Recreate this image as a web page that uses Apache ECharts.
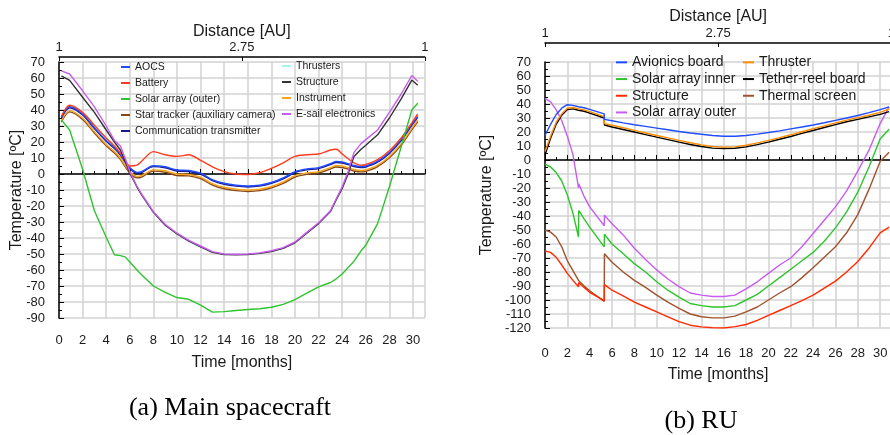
<!DOCTYPE html>
<html>
<head>
<meta charset="utf-8">
<script src="https://cdn.jsdelivr.net/npm/echarts@6/dist/echarts.min.js"></script>
<style>
  html, body { margin: 0; padding: 0; background: #fff; }
  #chart { width: 890px; height: 435px; }
</style>
</head>
<body>
<div id="chart"></div>
<script>
// ---- (a) Main spacecraft ----
const timeA = [0.2, 0.9, 2, 3, 4, 4.7, 5.2, 5.6, 6, 6.6, 7, 8, 9, 10, 11, 12, 13, 14, 15, 16, 17, 18, 19, 20, 21, 22, 23, 23.5, 24, 24.5, 25, 25.6, 26, 27, 28, 29, 29.9, 30.4];
const aocs = [35.5, 42, 37.5, 29, 21, 16.5, 12.5, 8, 4, 1, 1.5, 5.2, 4.5, 2.5, 2.2, 0.5, -3.5, -5.8, -7, -7.5, -7, -5.3, -2.5, 1.5, 3.2, 4, 6.5, 7.8, 7.5, 6.5, 5.3, 4.7, 5, 8, 13.5, 21.5, 31, 36];
const battery = [36, 43, 38.5, 30.5, 22.5, 17.5, 13, 8.5, 5, 5.5, 8, 14, 12, 11, 12, 8.5, 4.5, 1.5, 0, -0.3, 0.8, 3.5, 7, 11, 12, 12.5, 15, 15.5, 12.5, 9.5, 7, 5.5, 6, 9, 14.5, 22.5, 32, 37.5];
const solarOuterA = [33.8, 27.5, 3, -23, -39.5, -50.5, -51, -51.8, -55, -60, -63, -70, -74, -77.2, -78.3, -82, -86.3, -86, -85.3, -84.7, -84.2, -83.3, -81.5, -78.5, -74.5, -70.5, -67.8, -65.5, -62.5, -58.5, -54.5, -48, -44.5, -31, -8, 17, 40, 44.2];
const starTracker = [32.5, 38.8, 34.1, 25.6, 17.6, 13.1, 9.1, 4.6, 0.6, -2.4, -1.9, 1.8, 1.1, -0.9, -1.2, -2.9, -6.9, -9.2, -10.4, -10.9, -10.4, -8.7, -5.9, -1.9, -0.2, 0.6, 3.1, 4.4, 4.1, 3.1, 1.9, 1.3, 1.6, 4.6, 10.1, 18.1, 27.6, 32.8];
const commTx = [34.9, 41.4, 36.9, 28.4, 20.4, 15.9, 11.9, 7.4, 3.4, 0.4, 0.9, 4.6, 3.9, 1.9, 1.6, -0.1, -4.1, -6.4, -7.6, -8.1, -7.6, -5.9, -3.1, 0.9, 2.6, 3.4, 5.9, 7.2, 6.9, 5.9, 4.7, 4.1, 4.4, 7.4, 12.9, 20.9, 30.4, 35.4];
const thrusters = [32.8, 39.2, 34.5, 26, 18, 13.5, 9.5, 5, 1, -2, -1.5, 2.2, 1.5, -0.5, -0.8, -2.5, -6.5, -8.8, -10, -10.5, -10, -8.3, -5.5, -1.5, 0.2, 1, 3.5, 4.8, 4.5, 3.5, 2.3, 1.7, 2, 5, 10.5, 18.5, 28, 33.2];
const structureA = [61.3, 58.5, 48, 38.5, 27.5, 20, 15, 8, 0.5, -8, -13, -24, -32, -37.5, -42, -45.5, -49, -50.3, -50.5, -50.3, -49.6, -48.5, -46.5, -43, -37, -31, -23.5, -16, -9, 0, 11, 15.5, 18, 24.5, 35, 47, 58.7, 55.5];
const instrument = [33.2, 39.6, 35, 26.5, 18.5, 14, 10, 5.5, 1.5, -1.5, -1, 2.6, 2, 0, -0.3, -2, -6, -8.3, -9.5, -10, -9.5, -7.8, -5, -1, 0.7, 1.5, 4, 5.3, 5, 4, 2.8, 2.2, 2.5, 5.5, 11, 19, 28.5, 33.8];
const esail = [64.5, 62.5, 52, 42, 30, 21, 17.5, 10, 1.5, -7.5, -12.5, -23.5, -31.5, -37, -41.5, -45, -48.5, -50, -50.2, -50, -49.3, -48, -46, -42.5, -36.5, -30.5, -23, -15.5, -8, 1.5, 13.5, 19, 21.5, 27.5, 38.5, 50, 61.5, 58];

// ---- (b) RU ----
const timeB = [0, 0.5, 1, 1.5, 2, 2.5, 3, 3.02, 3.5, 4, 5.3, 5.32, 6, 7, 8, 9, 10, 11, 12, 13, 14, 15, 16, 17, 18, 19, 20, 21, 22, 23, 24, 25, 26, 27, 28, 29, 30, 30.8];
const avionics = [17.5, 25.5, 32.5, 37, 39.5, 39, 38, 38.5, 37.3, 36.2, 33, 29, 28, 26.5, 25.2, 24, 22.8, 21.6, 20.4, 19.3, 18.4, 17.5, 17, 17, 17.5, 18.5, 19.6, 20.8, 22.2, 23.6, 25, 26.6, 28.3, 30, 31.8, 33.8, 36, 38];
const solarInner = [-3, -5, -9, -15, -25, -38, -55, -36, -42, -48, -62, -53, -60, -67, -74, -80, -87, -93, -98, -102.5, -104, -105, -105, -104, -100, -96, -90, -84, -78, -72, -66, -58, -48.5, -37, -23, -5, 15, 22];
const structureB = [-65, -66, -69.5, -75, -81, -86, -90.5, -87.5, -91, -94.5, -100.5, -89, -93, -97, -101.5, -105, -108.5, -112, -115.5, -118, -119.2, -119.8, -120, -119, -117.5, -114.5, -111, -107.5, -104, -100.5, -96.5, -91.5, -86.5, -80, -72.5, -63, -52, -48];
const solarOuterB = [44, 41.5, 36, 28, 17, 4, -20, -17, -26, -33.5, -47, -39.5, -45.5, -53.5, -63, -71, -78.5, -85, -90.5, -95, -96.5, -97.5, -97.5, -96.5, -92, -87, -81, -75, -70, -62, -52.5, -43, -33.5, -22, -8, 7, 26, 38];
const thruster = [6, 17, 27, 33, 37, 37.5, 36.5, 37, 35.8, 34.5, 31, 26, 24.8, 23, 21.2, 19.3, 17.5, 15.8, 14, 12.3, 10.8, 9.6, 9.2, 9.4, 10.5, 12.2, 14, 16, 18, 20.2, 22.3, 24.4, 26.5, 28.5, 30.3, 32, 34, 36.5];
const tether = [3.5, 15.5, 25.5, 32, 36, 36.5, 35.5, 36, 34.8, 33.5, 30, 25, 23.6, 21.8, 20, 18.1, 16.3, 14.6, 12.8, 11.1, 9.6, 8.5, 8.2, 8.4, 9.4, 11, 12.8, 14.8, 16.8, 19, 21.1, 23.2, 25.3, 27.3, 29, 30.8, 32.6, 34.5];
const thermalScreen = [-50, -51.5, -55, -62, -72, -79, -86, -86.5, -90, -93.5, -101, -67, -73, -80, -86, -91, -96.5, -101.5, -106, -110, -112, -112.8, -112.8, -111.5, -108.5, -105, -100, -95, -90.5, -84, -77, -69.5, -62, -52, -39, -21, -1, 5.5];

// distance axis labels (top)
const distTicks = { 0: '1', 15.5: '2.75', 31: '1' };

const chart = echarts.init(document.getElementById('chart'));

const black = '#000';
const txt = '#1a1a1a';
const gridColor = '#d2d2d2';

function timeAxis(gridIndex, offset, labelMargin, nameGap) {
  return {
    type: 'value', gridIndex, position: 'bottom',
    min: 0, max: 31, interval: 2, offset,
    name: 'Time [months]', nameLocation: 'middle', nameGap, nameMoveOverlap: false,
    nameTextStyle: { fontSize: 16, color: txt, fontFamily: 'Liberation Sans' },
    axisLine: { show: true, lineStyle: { color: black, width: 1.5 } },
    axisTick: { inside: true, length: 5, lineStyle: { color: black } },
    minorTick: { show: true, splitNumber: 2, length: 3, lineStyle: { color: black } },
    splitLine: { show: true, lineStyle: { color: gridColor, width: 1.5 } },
    axisLabel: {
      fontSize: 13, color: txt, margin: labelMargin, fontFamily: 'Liberation Sans',
      formatter: v => (v > 30 ? '' : v)
    }
  };
}

function distAxis(gridIndex, offset, nameGap) {
  return {
    type: 'value', gridIndex, position: 'top',
    min: 0, max: 31, interval: 15.5, offset,
    name: 'Distance [AU]', nameLocation: 'middle', nameGap, nameMoveOverlap: false,
    nameTextStyle: { fontSize: 16, color: txt, fontFamily: 'Liberation Sans' },
    axisLine: { show: true, lineStyle: { color: black, width: 1.5 } },
    axisTick: { inside: true, length: 4, lineStyle: { color: black } },
    splitLine: { show: false },
    axisLabel: {
      fontSize: 13, color: txt, margin: 3, fontFamily: 'Liberation Sans',
      formatter: v => distTicks[v] || ''
    }
  };
}

function tempAxis(gridIndex, min, max, nameGap) {
  return {
    type: 'value', gridIndex, position: 'left',
    min, max, interval: 10, offset: 11,
    name: 'Temperature [ºC]', nameLocation: 'middle', nameGap, nameMoveOverlap: false,
    nameTextStyle: { fontSize: 16, color: txt, fontFamily: 'Liberation Sans' },
    axisLine: { show: true, lineStyle: { color: black, width: 1.5 } },
    axisTick: { show: true, inside: true, length: 5, lineStyle: { color: black } },
    minorTick: { show: true, splitNumber: 2, length: 3, lineStyle: { color: black } },
    splitLine: { show: true, lineStyle: { color: gridColor, width: 1.5 } },
    axisLabel: { fontSize: 13, color: txt, margin: 3, fontFamily: 'Liberation Sans' }
  };
}

function line(name, times, values, color, axis, smooth) {
  return {
    name, type: 'line',
    xAxisIndex: axis === 0 ? 0 : 2, yAxisIndex: axis,
    data: times.map((t, i) => [t, values[i]]),
    showSymbol: false, symbol: 'none',
    smooth: smooth || false,
    lineStyle: { color, width: 1.4 },
    itemStyle: { color }
  };
}

function legend(left, top, names, fontSize, lineHeight, itemWidth) {
  return {
    orient: 'vertical', left, top, data: names,
    icon: 'rect', itemWidth, itemHeight: 2, itemGap: 0,
    selectedMode: false, padding: 0,
    textStyle: { fontSize, lineHeight, color: txt, fontFamily: 'Liberation Sans' }
  };
}

const option = {
  animation: false,
  backgroundColor: '#fff',
  grid: [
    { left: 59, top: 62, width: 365.8, height: 256, outerBoundsMode: 'none' },
    { left: 545, top: 62, width: 346.3, height: 266, outerBoundsMode: 'none' }
  ],
  xAxis: [
    timeAxis(0, 12, 4, 25),
    distAxis(0, 5, 17),
    timeAxis(1, 13, 6, 26),
    distAxis(1, 19, 18)
  ],
  yAxis: [
    tempAxis(0, -90, 70, 23),
    tempAxis(1, -120, 70, 39)
  ],
  legend: [
    legend(121, 59, ['AOCS', 'Battery', 'Solar array (outer)', 'Star tracker (auxiliary camera)', 'Communication transmitter'], 10.5, 16, 9),
    legend(282, 58, ['Thrusters', 'Structure', 'Instrument', 'E-sail electronics'], 10.5, 16, 9),
    legend(616, 54, ['Avionics board', 'Solar array inner', 'Structure ', 'Solar array outer'], 14, 16.7, 11),
    legend(743, 54, ['Thruster', 'Tether-reel board', 'Thermal screen'], 14, 16.7, 11)
  ],
  graphic: [
    { type: 'text', x: 230, y: 408, style: { text: '(a) Main spacecraft', fontSize: 26, fontFamily: 'Liberation Serif', fill: '#000', align: 'center', verticalAlign: 'middle' } },
    { type: 'text', x: 701, y: 421, style: { text: '(b) RU', fontSize: 26, fontFamily: 'Liberation Serif', fill: '#000', align: 'center', verticalAlign: 'middle' } }
  ],
  series: [
    line('Thrusters', timeA, thrusters, '#a8f0f0', 0, 0.3),
    line('Star tracker (auxiliary camera)', timeA, starTracker, '#8b4513', 0, 0.3),
    line('Instrument', timeA, instrument, '#ffa31a', 0, 0.3),
    line('Communication transmitter', timeA, commTx, '#1a1a8c', 0, 0.3),
    line('AOCS', timeA, aocs, '#1f4dff', 0, 0.3),
    line('Battery', timeA, battery, '#ff3b1f', 0, 0.3),
    line('Solar array (outer)', timeA, solarOuterA, '#2ec42e', 0),
    line('Structure', timeA, structureA, '#333333', 0),
    line('E-sail electronics', timeA, esail, '#c85cf0', 0),

    line('Thermal screen', timeB, thermalScreen, '#a0522d', 1),
    line('Structure ', timeB, structureB, '#ff2a00', 1),
    line('Solar array inner', timeB, solarInner, '#2ec42e', 1),
    line('Solar array outer', timeB, solarOuterB, '#c85cf0', 1),
    line('Tether-reel board', timeB, tether, '#000000', 1),
    line('Thruster', timeB, thruster, '#ff8c00', 1),
    line('Avionics board', timeB, avionics, '#1f4dff', 1)
  ]
};

chart.setOption(option);
</script>
</body>
</html>
